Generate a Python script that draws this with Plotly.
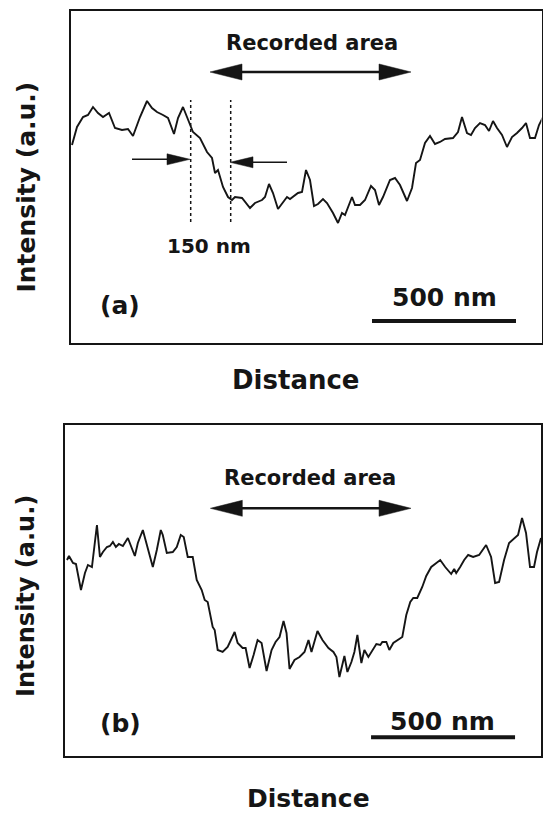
import plotly.graph_objects as go

# ---- data (distance in arbitrary units, intensity in a.u.) ----
dist_a = [1, 6, 12, 17, 22, 27, 32, 38, 44, 51,
          57, 62, 69, 76, 81, 86, 92, 97, 103, 107,
          112, 117, 122, 129, 136, 141, 144, 147, 152, 157,
          161, 164, 171, 179, 184, 191, 194, 198, 202, 207,
          212, 216, 219, 222, 227, 231, 235, 239, 243, 247,
          252, 256, 262, 267, 271, 274, 281, 284, 289, 294,
          300, 304, 308, 312, 319, 324, 329, 336, 341, 345,
          349, 354, 359, 364, 369, 374, 382, 387, 391, 396,
          400, 404, 409, 414, 418, 422, 426, 431, 436, 441,
          446, 451, 455, 459, 464, 468, 472]
int_a = [195, 213, 223, 225, 233, 227, 223, 227, 212, 210,
         211, 204, 223, 239, 232, 228, 225, 222, 206, 222,
         233, 220, 208, 202, 188, 182, 167, 170, 153, 143,
         140, 143, 142, 132, 137, 140, 143, 156, 147, 131,
         138, 143, 141, 143, 147, 148, 170, 160, 134, 136,
         141, 137, 127, 117, 127, 125, 143, 135, 135, 140,
         154, 150, 135, 143, 160, 162, 155, 139, 152, 177,
         180, 197, 204, 196, 198, 201, 202, 208, 223, 207,
         205, 212, 217, 215, 209, 219, 212, 205, 193, 203,
         207, 212, 217, 202, 202, 215, 223]

dist_b = [1, 3, 7, 10, 15, 19, 22, 26, 31, 34,
          37, 41, 44, 47, 50, 53, 57, 62, 69, 72,
          77, 81, 87, 91, 95, 97, 101, 107, 111, 115,
          118, 122, 127, 131, 136, 139, 142, 147, 149, 152,
          157, 162, 166, 169, 172, 177, 180, 184, 188, 192,
          196, 201, 206, 210, 214, 218, 221, 224, 229, 234,
          239, 243, 246, 252, 257, 263, 268, 271, 274, 279,
          282, 286, 289, 292, 296, 299, 303, 307, 311, 315,
          317, 321, 324, 328, 332, 337, 341, 345, 348, 352,
          357, 361, 366, 371, 375, 380, 386, 389, 391, 395,
          399, 403, 408, 414, 421, 426, 430, 434, 439, 444,
          449, 453, 457, 461, 465, 469, 472, 476]
int_b = [178, 182, 175, 174, 148, 165, 173, 171, 213, 181,
         186, 191, 192, 196, 191, 194, 192, 200, 182, 195,
         208, 193, 171, 188, 208, 203, 185, 186, 191, 203,
         201, 181, 181, 158, 148, 138, 136, 111, 108, 88,
         86, 91, 100, 106, 95, 90, 90, 70, 83, 98,
         95, 67, 88, 96, 101, 117, 105, 69, 78, 81,
         86, 98, 86, 107, 98, 90, 86, 81, 61, 82,
         66, 76, 86, 103, 75, 88, 81, 88, 94, 93,
         96, 96, 88, 95, 98, 101, 123, 136, 140, 140,
         151, 162, 171, 175, 178, 171, 164, 169, 165, 171,
         178, 183, 181, 183, 193, 181, 155, 156, 178, 195,
         200, 203, 220, 205, 171, 171, 186, 200]

panel_labels = ["(a)", "(b)"]
x_title = "Distance"
y_title = "Intensity (a.u.)"
region_label = "Recorded area"
scale_label = "500 nm"
width_label = "150 nm"

FONT = "DejaVu Sans"
INK = "#151515"

W, H = 544, 814


def px(x):
    return x / W


def py(y):
    return 1 - y / H


fig = go.Figure()
fig.add_trace(go.Scatter(x=dist_a, y=int_a, mode="lines",
                         line=dict(color=INK, width=1.9), xaxis="x", yaxis="y",
                         showlegend=False, hoverinfo="skip"))
fig.add_trace(go.Scatter(x=dist_b, y=int_b, mode="lines",
                         line=dict(color=INK, width=1.9), xaxis="x2", yaxis="y2",
                         showlegend=False, hoverinfo="skip"))

ax_common = dict(showline=True, mirror=True, linecolor=INK, linewidth=1.6,
                 showgrid=False, zeroline=False, showticklabels=False, ticks="",
                 fixedrange=True)

fig.update_layout(
    width=W, height=H, autosize=False,
    margin=dict(l=0, r=0, t=0, b=0),
    paper_bgcolor="white", plot_bgcolor="white",
    xaxis=dict(domain=[px(71), px(541.5)], range=[0, 470.5], anchor="y", **ax_common),
    yaxis=dict(domain=[py(343), py(11)], range=[-3, 329], anchor="x", **ax_common),
    xaxis2=dict(domain=[px(65), px(541)], range=[-1, 476], anchor="y2", **ax_common),
    yaxis2=dict(domain=[py(756), py(425)], range=[-18, 313], anchor="x2", **ax_common),
)

shapes = []
annots = []


def tri(xr, yr, tip_x, y, direction, length, half):
    base = tip_x - direction * length
    return dict(type="path", xref=xr, yref=yr,
                path=f"M {tip_x},{y} L {base},{y + half} L {base},{y - half} Z",
                fillcolor=INK, line=dict(color=INK, width=0.5))


def text(xr, yr, x, y, s, size, **kw):
    return dict(xref=xr, yref=yr, x=x, y=y, text=f"<b>{s}</b>", showarrow=False,
                font=dict(family=FONT, size=size, color=INK),
                xanchor="center", yanchor="middle", **kw)


# ---------- panel (a) ----------
shapes.append(dict(type="line", xref="x", yref="y", x0=160, x1=320, y0=268, y1=268,
                   line=dict(color=INK, width=2.6)))
shapes.append(tri("x", "y", 139, 268, -1, 32, 8))
shapes.append(tri("x", "y", 340, 268, 1, 32, 8))
annots.append(text("x", "y", 240.5, 297, region_label, 21))
for xv in (119.7, 159.7):
    shapes.append(dict(type="line", xref="x", yref="y", x0=xv, x1=xv, y0=118, y1=240,
                       line=dict(color=INK, width=1.5, dash="dot")))
shapes.append(dict(type="line", xref="x", yref="y", x0=61, x1=105, y0=180.7, y1=180.7,
                   line=dict(color=INK, width=1.6)))
shapes.append(tri("x", "y", 119, 180.7, 1, 23, 5.5))
shapes.append(dict(type="line", xref="x", yref="y", x0=172, x1=216, y0=177.7, y1=177.7,
                   line=dict(color=INK, width=1.6)))
shapes.append(tri("x", "y", 159, 177.7, -1, 23, 5.5))
annots.append(text("x", "y", 138, 94, width_label, 20))
annots.append(text("x", "y", 49, 35, panel_labels[0], 25))
annots.append(text("x", "y", 373, 43, scale_label, 25))
shapes.append(dict(type="line", xref="x", yref="y", x0=301, x1=445, y0=19, y1=19,
                   line=dict(color=INK, width=4)))

# ---------- panel (b) ----------
shapes.append(dict(type="line", xref="x2", yref="y2", x0=165, x1=325, y0=229.7, y1=229.7,
                   line=dict(color=INK, width=2.6)))
shapes.append(tri("x2", "y2", 144.7, 229.7, -1, 32, 8))
shapes.append(tri("x2", "y2", 345.7, 229.7, 1, 32, 8))
annots.append(text("x2", "y2", 245, 260, region_label, 21))
annots.append(text("x2", "y2", 55, 15, panel_labels[1], 25))
annots.append(text("x2", "y2", 377, 16.5, scale_label, 25))
shapes.append(dict(type="line", xref="x2", yref="y2", x0=305.7, x1=450, y0=0.7, y1=0.7,
                   line=dict(color=INK, width=4)))

# ---------- axis titles (paper) ----------
annots.append(text("paper", "paper", px(296), py(380), x_title, 26))
annots.append(text("paper", "paper", px(308), py(798), x_title, 25))
annots.append(text("paper", "paper", px(26), py(187.5), y_title, 25, textangle=-90))
annots.append(text("paper", "paper", px(26), py(596), y_title, 24, textangle=-90))

fig.update_layout(shapes=shapes, annotations=annots)

fig.write_html(
    "out.html",
    config={"displayModeBar": False, "staticPlot": True},
    post_script="document.body.style.margin='0';document.body.style.overflow='hidden';",
)
